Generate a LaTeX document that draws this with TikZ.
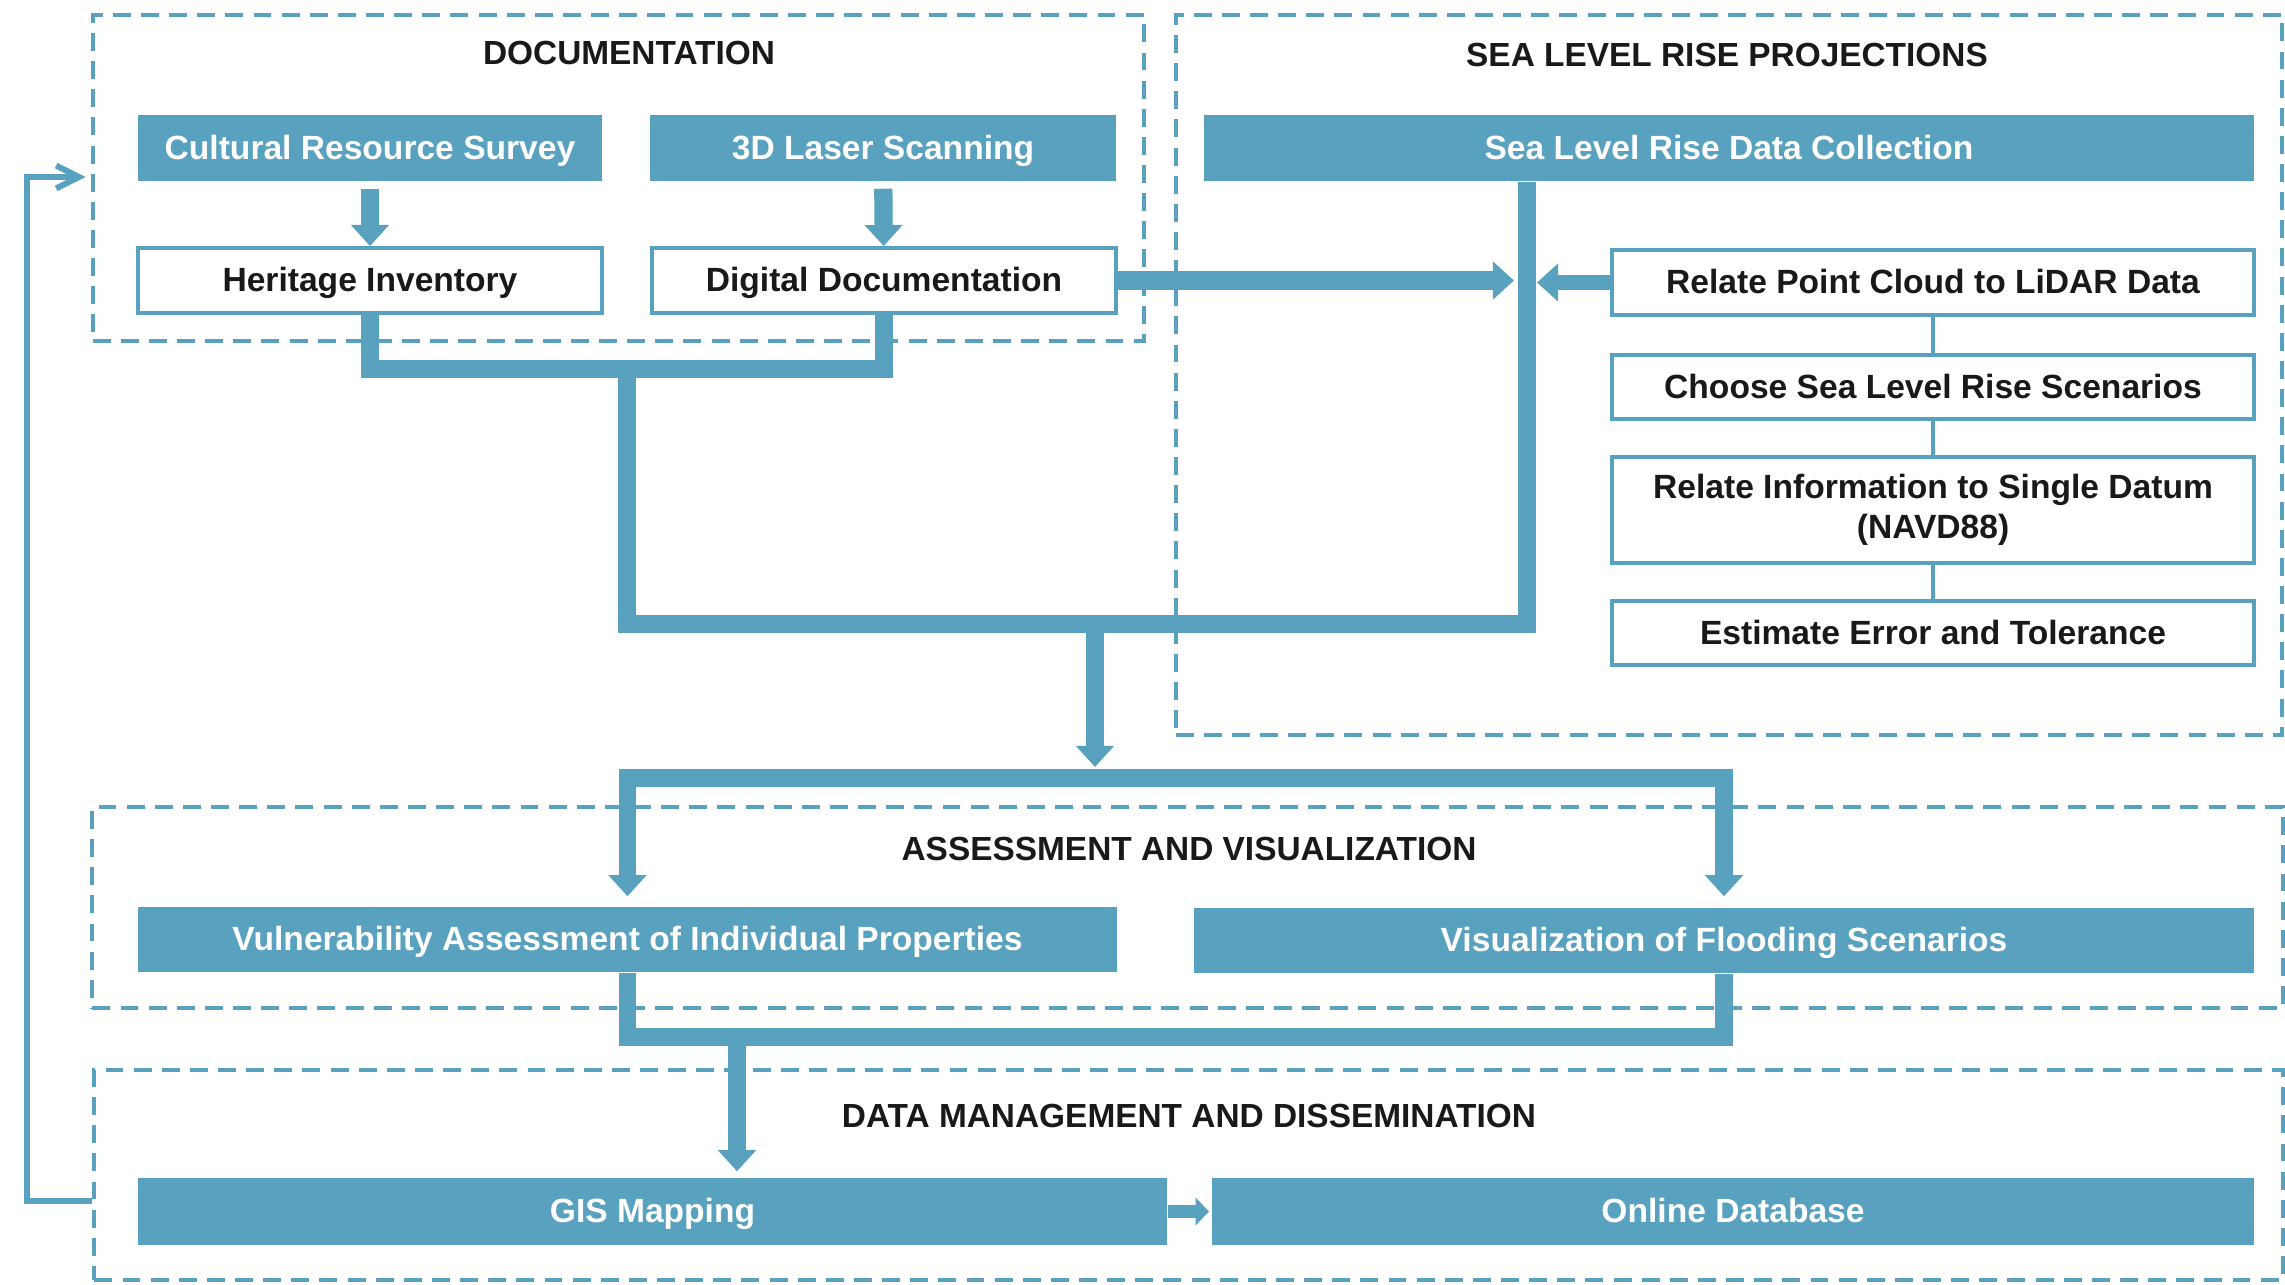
\documentclass[tikz,border=0pt]{standalone}
\usepackage{fontspec}
\setmainfont{Liberation Sans}
\usepackage{tikz}
\usetikzlibrary{arrows.meta}
\definecolor{flowblue}{RGB}{88,161,191}
\newcommand{\boxfont}{\bfseries\fontsize{9.55}{11.5}\selectfont}
\tikzset{
  stagebox/.style={draw=flowblue, line width=1.15pt, dash pattern=on 5.1pt off 2.9pt, inner sep=0},
  stagetitle/.style={font=\bfseries\fontsize{9.5}{11}\selectfont, text=black!90},
  solidbox/.style={fill=flowblue, text=white, font=\boxfont, inner sep=0, minimum height=0.66cm, text height=0.72em, text depth=0.08em},
  openbox/.style={draw=flowblue, line width=1.1pt, fill=white, text=black!90, font=\boxfont, inner sep=0, align=center, minimum height=0.65cm, text height=0.72em, text depth=0.08em},
  flow/.style={draw=flowblue, line width=5pt},
  flowarrow/.style={draw=flowblue, line width=5.2pt, arrows={-Triangle[width=10.5pt,length=6pt]}},
  smallarrow/.style={draw=flowblue, line width=3.7pt, arrows={-Triangle[width=7.7pt,length=3.8pt]}},
  thinlink/.style={draw=flowblue, line width=1.1pt},
  feedback/.style={draw=flowblue, line width=1.7pt, arrows={-Straight Barb[length=6.5pt,width=6.5pt]}}
}

\begin{document}
\begin{tikzpicture}[x=0.01cm, y=-0.01cm]
	\useasboundingbox (0,0) rectangle (2285,1284);

	% dashed frames of the four stages
	\node[stagebox, minimum width=10.51cm, minimum height=3.26cm] (docgrp) at (618.5,178) {};
	\node[stagebox, minimum width=11.06cm, minimum height=7.20cm] (slrgrp) at (1729,375) {};
	\node[stagebox, minimum width=21.89cm, minimum height=2.01cm] (assessgrp) at (1187.5,907.5) {};
	\node[stagebox, minimum width=21.87cm, minimum height=2.10cm] (dmgrp) at (1188.5,1175) {};

	\node[stagetitle] (doctitle) at (629,53) {DOCUMENTATION};
	\node[stagetitle] (slrtitle) at (1727,55) {SEA LEVEL RISE PROJECTIONS};
	\node[stagetitle] (assesstitle) at (1189,849) {ASSESSMENT AND VISUALIZATION};
	\node[stagetitle] (dmtitle) at (1189,1116) {DATA MANAGEMENT AND DISSEMINATION};

	% documentation
	\node[solidbox, minimum width=4.64cm] (survey) at (370,148) {Cultural Resource Survey};
	\node[solidbox, minimum width=4.66cm] (laser) at (883,148) {3D Laser Scanning};
	\node[openbox, minimum width=4.64cm] (herit) at (370,280.5) {Heritage Inventory};
	\node[openbox, minimum width=4.64cm] (digdoc) at (884,280.5) {Digital Documentation};

	% sea level rise
	\node[solidbox, minimum width=10.50cm] (slrdata) at (1729,148) {Sea Level Rise Data Collection};
	\node[openbox, minimum width=6.42cm] (lidar) at (1933,282.5) {Relate Point Cloud to LiDAR Data};
	\node[openbox, minimum width=6.42cm, minimum height=0.64cm] (scen) at (1933,387) {Choose Sea Level Rise Scenarios};
	\node[openbox, minimum width=6.42cm, minimum height=1.06cm, text height=, text depth=] (datum) at (1933,510) {Relate Information to Single Datum\\(NAVD88)};
	\node[openbox, minimum width=6.42cm, minimum height=0.64cm] (error) at (1933,633) {Estimate Error and Tolerance};

	% assessment, data management
	\node[solidbox, minimum width=9.79cm, minimum height=0.65cm] (vuln) at (627.5,939.5) {Vulnerability Assessment of Individual Properties};
	\node[solidbox, minimum width=10.60cm, minimum height=0.65cm] (visual) at (1724,940.5) {Visualization of Flooding Scenarios};
	\node[solidbox, minimum width=10.29cm, minimum height=0.67cm] (gis) at (652.5,1211.5) {GIS Mapping};
	\node[solidbox, minimum width=10.42cm, minimum height=0.67cm] (db) at (1733,1211.5) {Online Database};

	\coordinate (docjoin) at (627,369);
	\coordinate (slrjoin) at (1527,624);
	\coordinate (outjoin) at (1095,624);
	\coordinate (fantip) at (1095,767);
	\coordinate (fanbar) at (1095,778);
	\coordinate (mergebar) at (737,1037);
	\coordinate (loopbot) at (27,1201);
	\coordinate (looptop) at (27,177);

	\draw[flowarrow, shorten <=0.07cm] (survey) -- (herit);
	\draw[flowarrow, shorten <=0.07cm] (laser) -- (digdoc);
	\draw[flow] (herit.south) |- (docjoin) -| (digdoc.south);
	\draw[flow] (docjoin) |- (slrjoin) -- (slrjoin |- slrdata.south);
	\draw[flowarrow, shorten >=0.13cm] (digdoc.east) -- (digdoc.east -| slrjoin);
	\draw[flowarrow, line width=4.3pt, shorten >=0.1cm] (lidar.west) -- (lidar.west -| slrjoin);
	\draw[thinlink] (lidar) -- (scen) (scen) -- (datum) (datum) -- (error);

	\draw[flowarrow] (outjoin) -- (fantip);
	\draw[flow, arrows={Triangle[width=10.5pt,length=6pt]-Triangle[width=10.5pt,length=6pt]}, shorten <=0.1cm, shorten >=0.11cm] (vuln.north) |- (fanbar) -| (visual.north);
	\draw[flow] (vuln.south) |- (mergebar) -| (visual.south);
	\draw[flowarrow, shorten >=0.06cm] (mergebar) -- (mergebar |- gis.north);
	\draw[smallarrow, shorten >=0.02cm] (gis) -- (db);

	% results fed back into documentation
	\draw[feedback, shorten >=0.05cm] (loopbot -| dmgrp.west) -- (loopbot) -- (looptop) -- (looptop -| docgrp.west);
\end{tikzpicture}
\end{document}
